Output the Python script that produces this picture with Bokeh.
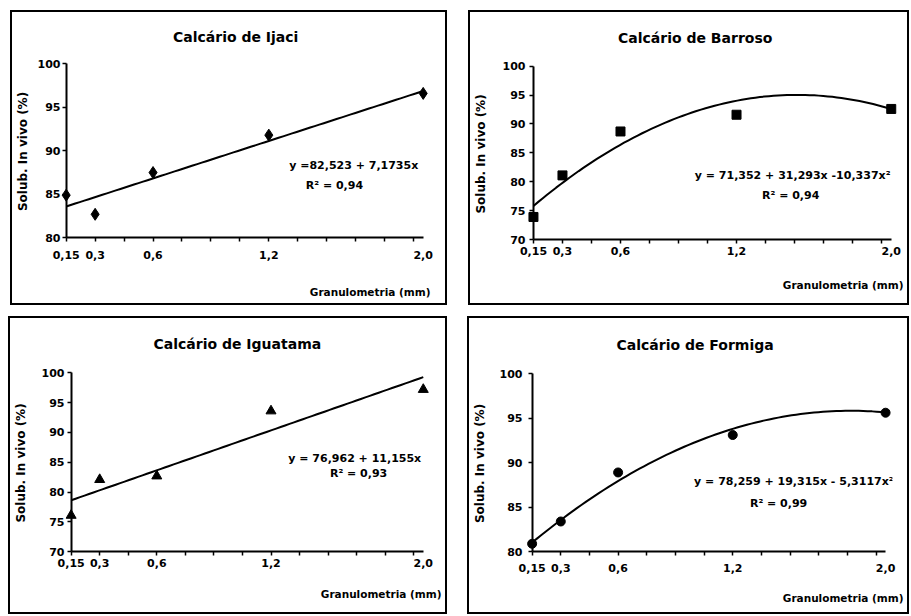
import numpy as np
from bokeh.plotting import figure
from bokeh.models import (FixedTicker, Range1d, Label, LinearAxis, CustomJSTickFormatter, Spacer, Title)
from bokeh.layouts import column, row
from bokeh.embed import file_html
from bokeh.resources import INLINE

# ---------------- data ----------------
x_sizes = [0.15, 0.3, 0.6, 1.2, 2.0]
x_tick_labels = ["0,15", "0,3", "0,6", "1,2", "2,0"]
x_minor_ticks = [0.15, 0.30, 0.45, 0.60, 0.75, 0.90, 1.05, 1.20, 1.35, 1.50, 1.65, 1.80, 1.95]

ijaci = [84.9, 82.7, 87.5, 91.8, 96.6]
barroso = [73.9, 81.1, 88.7, 91.6, 92.6]
iguatama = [76.1, 82.1, 82.7, 93.6, 97.2]
formiga = [80.9, 83.4, 88.9, 93.1, 95.6]

# trend-line coefficients as printed on the chart: a + b*x + c*x^2
coef_ijaci = [82.523, 7.1735, 0.0]
coef_barroso = [71.352, 31.293, -10.337]
coef_iguatama = [76.962, 11.155, 0.0]
coef_formiga = [78.259, 19.315, -5.3117]

titles = ["Calcário de Ijaci", "Calcário de Barroso", "Calcário de Iguatama", "Calcário de Formiga"]
equations = ["y =82,523 + 7,1735x", "y = 71,352 + 31,293x -10,337x²",
             "y =  76,962 + 11,155x", "y = 78,259 + 19,315x - 5,3117x²"]
r2_texts = ["R² = 0,94", "R² = 0,94", "R² = 0,93", "R² = 0,99"]
y_label = "Solub. In vivo (%)"
x_label = "Granulometria (mm)"

FONT = "DejaVu Sans"
BLANK = CustomJSTickFormatter(code="return ''")


def hide_axis(ax):
    ax.axis_line_color = None
    ax.major_tick_line_color = None
    ax.minor_tick_line_color = None
    ax.major_tick_in = 0
    ax.major_tick_out = 0
    ax.minor_tick_in = 0
    ax.minor_tick_out = 0


def blank_labels(ax):
    ax.formatter = BLANK
    ax.major_label_text_font_size = "0px"
    ax.major_label_standoff = 0


def make_panel(title, yvals, coef, ymin, marker, msize, eq, r2, eq_xy, r2_xy, g):
    W, H = g["W"], g["H"]
    ax0, ax2, y100, ylow = g["ax0"], g["ax2"], g["y100"], g["ylow"]
    padL, padR, padT, padB = 6, 7, 3, 5
    L = int(round(ax0 - padL)); R = int(round(ax2 + padR))
    T = int(round(y100 - padT)); B = int(round(ylow + padB))
    sx = (ax2 - ax0) / (2.0 - 0.15)
    x0 = 0.15 - (ax0 - L) / sx
    x1 = 2.0 + (R - ax2) / sx
    sy = (ylow - y100) / (100 - ymin)
    y0 = ymin - (B - ylow) / sy
    y1 = 100 + (y100 - T) / sy

    p = figure(width=W, height=H, x_range=Range1d(x0, x1), y_range=Range1d(y0, y1),
               output_backend="svg", toolbar_location=None,
               min_border_left=L, min_border_right=W - R,
               min_border_top=T, min_border_bottom=H - B)
    p.outline_line_color = None
    p.xgrid.visible = False
    p.ygrid.visible = False
    p.background_fill_color = "white"
    p.border_fill_color = "white"

    # ---- chart title ----
    p.title.text = title
    p.title.text_font = FONT
    p.title.text_font_style = "bold"
    p.title.text_font_size = "14px"
    p.title.text_color = "black"
    p.title.align = "left"
    p.title.offset = g["tcx"] - L - g["tw"] / 2
    p.title.vertical_align = "top"
    p.title.standoff = max(0, T - 2 - 18)

    # ---- main x axis: tick labels at frame bottom ----
    xa = p.xaxis[0]
    xa.ticker = FixedTicker(ticks=x_sizes, minor_ticks=[])
    xa.major_label_overrides = {t: l for t, l in zip(x_sizes, x_tick_labels)}
    hide_axis(xa)
    xstand = int(round(g["xtc"] - 6.5 - B))
    xa.major_label_standoff = xstand
    xa.major_label_text_font = FONT
    xa.major_label_text_font_style = "bold"
    xa.major_label_text_font_size = "11px"
    xa.major_label_text_color = "black"

    # invisible spacer axis (white tick on white) so that the x-axis title sits low enough
    a1 = xstand + 13
    tb = g["xlc"] + 6.5
    s_title = max(2, int(round(2 * (H - tb))))
    gap = max(0, int(H - B - a1 - 15 - s_title))
    sp = LinearAxis(ticker=FixedTicker(ticks=[1.0], minor_ticks=[]))
    blank_labels(sp)
    sp.axis_line_color = None
    sp.minor_tick_line_color = None
    sp.major_tick_line_color = "white"
    sp.major_tick_in = 0
    sp.major_tick_out = gap
    sp.minor_tick_in = 0
    sp.minor_tick_out = 0
    p.add_layout(sp, "below")

    p.add_layout(Title(text=x_label, align="right", offset=R - g["xlr"], vertical_align="bottom",
                       standoff=s_title, text_font=FONT, text_font_style="bold",
                       text_font_size="10.5px", text_color="black"), "below")

    # ---- main y axis: tick labels + axis label, at frame left ----
    ya = p.yaxis[0]
    ya.ticker = FixedTicker(ticks=list(range(ymin, 101, 5)), minor_ticks=[])
    hide_axis(ya)
    ystand = max(0, int(round(L - (ax0 - g["ygap"]))))
    ya.major_label_standoff = ystand
    ya.major_label_text_font = FONT
    ya.major_label_text_font_style = "bold"
    ya.major_label_text_font_size = "11px"
    ya.major_label_text_color = "black"
    ya.axis_label = y_label
    ya.axis_label_text_font = FONT
    ya.axis_label_text_font_style = "bold"
    ya.axis_label_text_font_size = "12px"
    ya.axis_label_text_color = "black"
    ya.axis_label_standoff = int(round((L - ystand - 23) - (g["ylc"] + 7)))

    # ---- axis lines + tick marks drawn at 0.15 / ymin ----
    xt = LinearAxis(fixed_location=ymin, bounds=(0.15, 2.0),
                    ticker=FixedTicker(ticks=x_minor_ticks, minor_ticks=[]))
    blank_labels(xt)
    xt.axis_line_width = 2
    xt.axis_line_color = "black"
    xt.major_tick_in = 4
    xt.major_tick_out = 0
    xt.major_tick_line_width = 1.5
    xt.minor_tick_line_color = None
    p.add_layout(xt, "above")

    yt = LinearAxis(fixed_location=0.15, bounds=(ymin, 100),
                    ticker=FixedTicker(ticks=list(range(ymin, 101, 5)), minor_ticks=[]))
    blank_labels(yt)
    yt.axis_line_width = 2
    yt.axis_line_color = "black"
    yt.major_tick_in = 4
    yt.major_tick_out = 0
    yt.major_tick_line_width = 1.5
    yt.minor_tick_line_color = None
    p.add_layout(yt, "right")

    # trend line from the printed equation
    xs = np.linspace(0.15, 2.0, 80)
    ys = coef[0] + coef[1] * xs + coef[2] * xs ** 2
    p.line(xs, ys, line_color="black", line_width=2)

    # observed points
    p.scatter(x_sizes, yvals, marker=marker, size=msize, color="black")

    for (tx, ty), txt in ((eq_xy, eq), (r2_xy, r2)):
        p.add_layout(Label(x=tx, y=ty, text=txt, text_align="center", text_baseline="middle",
                           text_font=FONT, text_font_style="bold", text_font_size="11px",
                           text_color="black"))
    return p


# geometry in figure pixels (figure origin = inside of each box)
g1 = dict(W=433, H=291, ax0=53.7, ax2=410.7, y100=51.3, ylow=225.3, tcx=223, tw=125,
          xtc=244.7, ygap=6, ylc=13, xlr=418, xlc=281.3)
g2 = dict(W=437, H=291, ax0=61, ax2=420.7, y100=53.7, ylow=227, tcx=222.5, tw=154,
          xtc=241, ygap=8, ylc=11, xlr=433, xlc=274.7)
g3 = dict(W=435, H=294, ax0=56.7, ax2=412.7, y100=54.3, ylow=233.3, tcx=223, tw=168,
          xtc=246.7, ygap=7, ylc=9, xlr=431, xlc=277.3)
g4 = dict(W=438, H=294, ax0=58.7, ax2=416, y100=55, ylow=233.3, tcx=222, tw=158,
          xtc=251.7, ygap=10, ylc=9, xlr=434, xlc=281.7)

p1 = make_panel(titles[0], ijaci, coef_ijaci, 80, "diamond", 12, equations[0], r2_texts[0],
                (1.64, 88.3), (1.54, 86.0), g1)
p2 = make_panel(titles[1], barroso, coef_barroso, 70, "square", 9, equations[1], r2_texts[1],
                (1.49, 81.1), (1.48, 77.6), g2)
p3 = make_panel(titles[2], iguatama, coef_iguatama, 70, "triangle", 10, equations[2], r2_texts[2],
                (1.65, 85.6), (1.66, 83.1), g3)
p4 = make_panel(titles[3], formiga, coef_formiga, 80, "circle", 9, equations[3], r2_texts[3],
                (1.52, 87.9), (1.44, 85.4), g4)

BOX = {"border": "2px solid black"}
layout = column(
    Spacer(height=10),
    row(Spacer(width=10), column(p1, styles=BOX), Spacer(width=21), column(p2, styles=BOX)),
    Spacer(height=11),
    row(Spacer(width=8), column(p3, styles=BOX), Spacer(width=20), column(p4, styles=BOX)),
)

open("out.html", "w").write(file_html(layout, INLINE))
